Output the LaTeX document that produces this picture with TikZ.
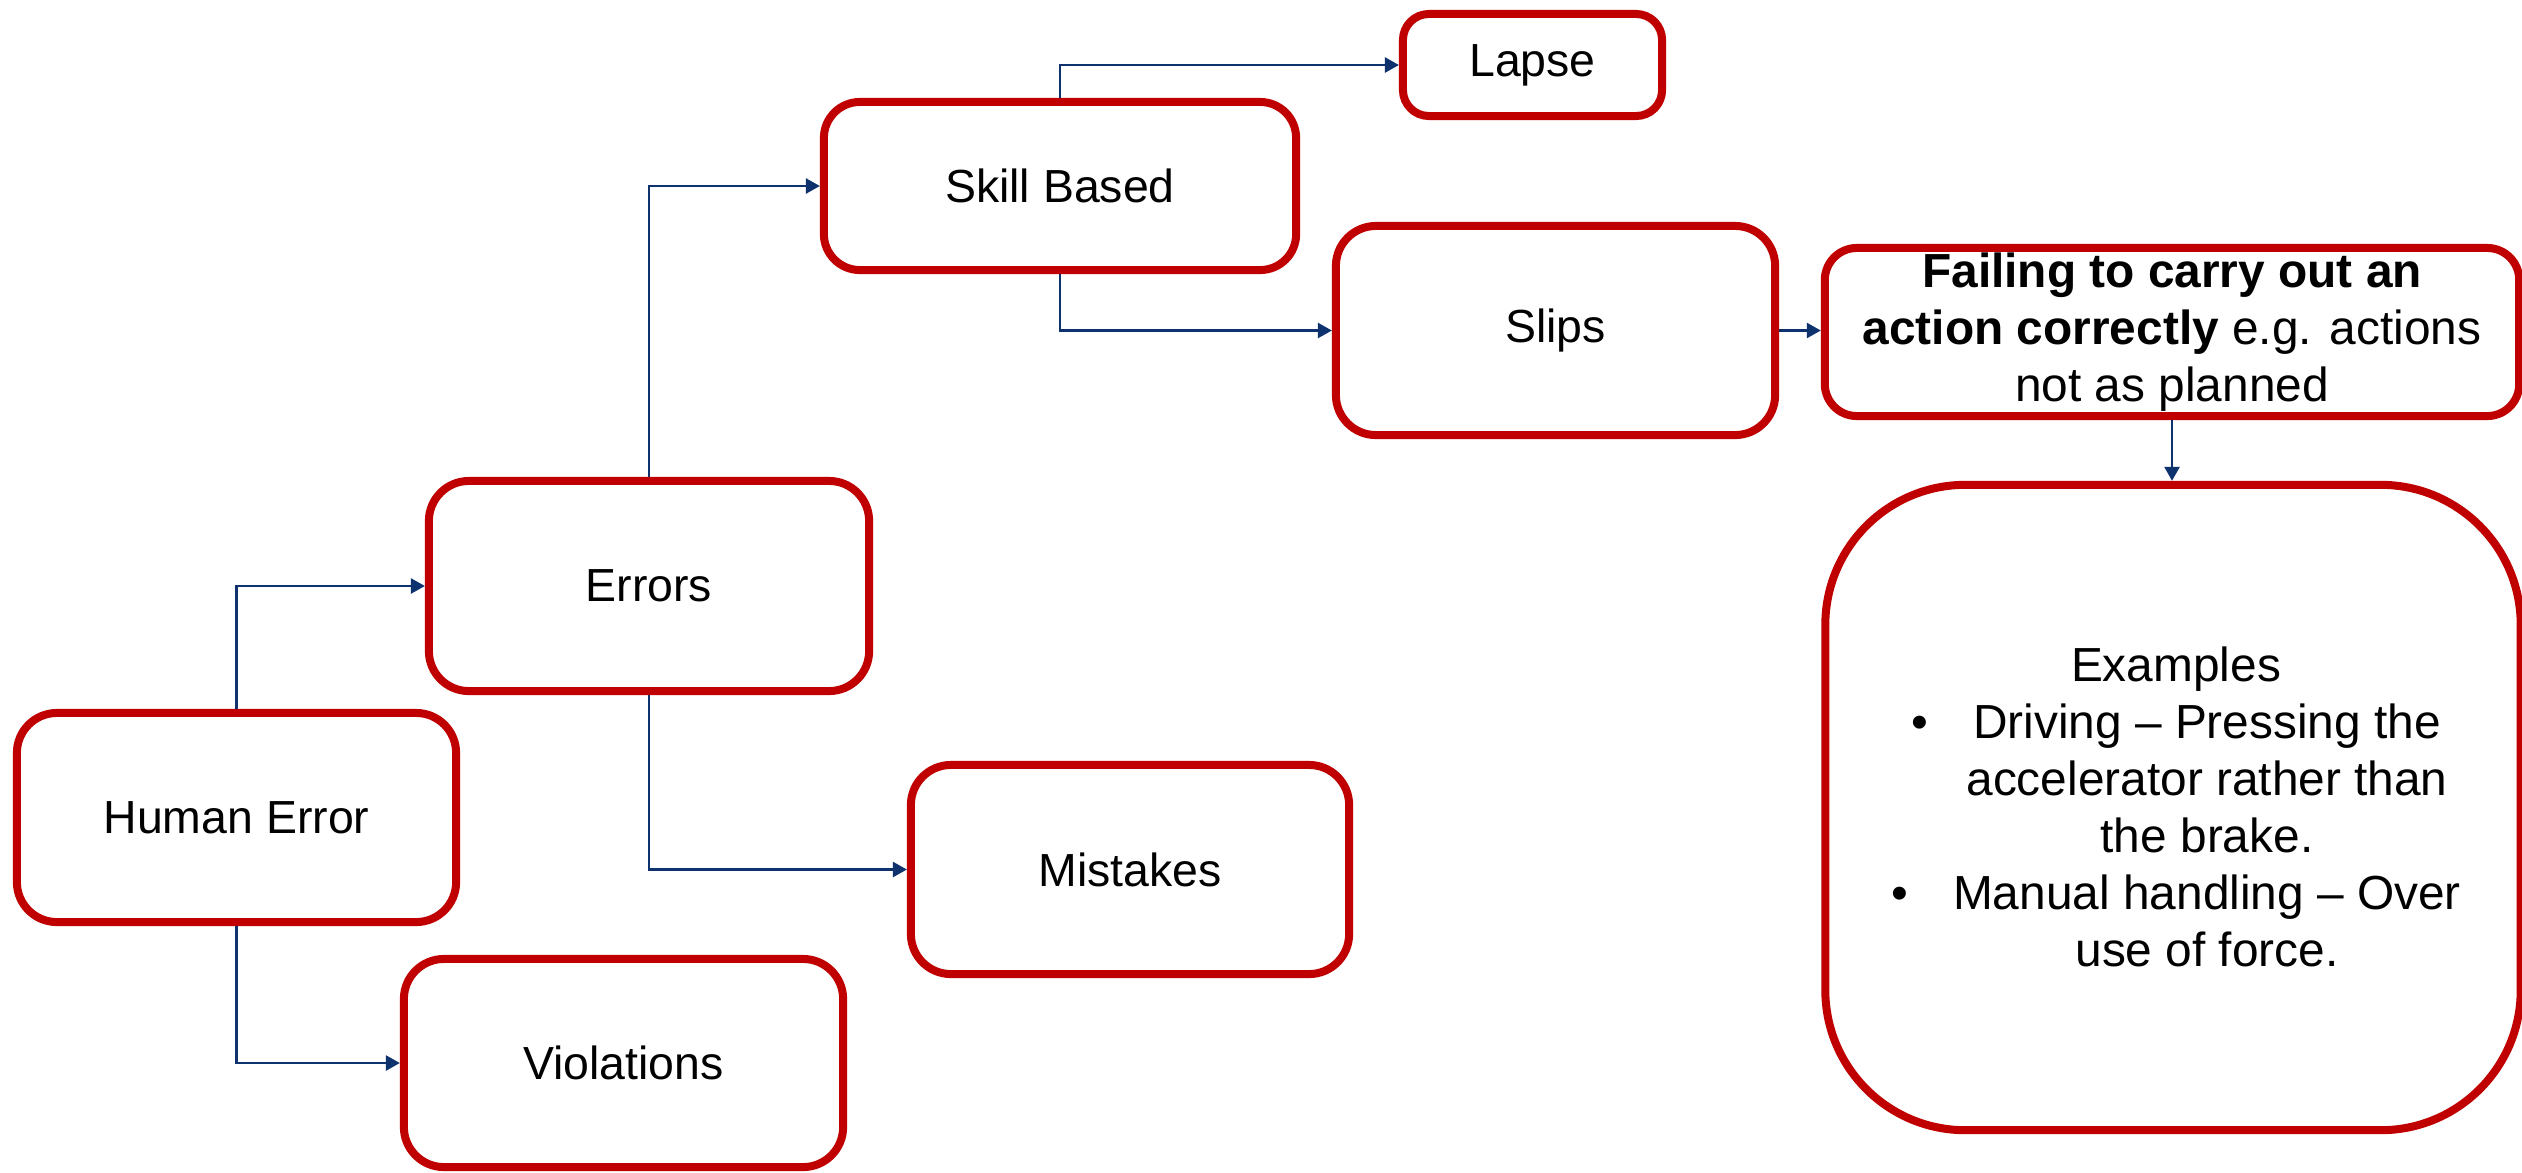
\documentclass[tikz,border=0pt]{standalone}
\usepackage{fontspec}
\setmainfont{Liberation Sans}
\usetikzlibrary{arrows.meta}
\definecolor{boxred}{RGB}{192,0,0}
\definecolor{linkblue}{RGB}{14,50,110}
\tikzset{
  box/.style={draw=boxred, line width=0.08cm, rounded corners=0.4cm, fill=white,
    inner sep=0pt, align=center, font=\fontsize{13.2}{16.2}\selectfont},
  bodytext/.style={inner sep=0pt, align=center, font=\fontsize{13.6}{16.2}\selectfont},
  link/.style={draw=linkblue, line width=0.025cm,
    -{Triangle[length=0.14cm,width=0.15cm]}},
}
\begin{document}
\begin{tikzpicture}[x=0.01cm,y=-0.01cm]
\fill[white] (0,0) rectangle (2522,1172);
\clip (0,0) rectangle (2522,1172);

% classification boxes
\node[box, minimum width=4.39cm, minimum height=2.09cm] (human) at (236.5,817.5) {Human Error};
\node[box, minimum width=4.40cm, minimum height=2.10cm] (errors) at (649,586) {Errors};
\node[box, minimum width=4.39cm, minimum height=2.08cm] (violations) at (623.5,1063) {Violations};
\node[box, minimum width=4.38cm, minimum height=2.09cm] (mistakes) at (1130,869.5) {Mistakes};
\node[box, minimum width=4.72cm, minimum height=1.68cm, rounded corners=0.36cm] (skill) at (1060,186) {Skill Based};
\node[box, minimum width=2.59cm, minimum height=1.02cm, rounded corners=0.26cm] (lapse) at (1532.5,65) {Lapse};
\node[box, minimum width=4.39cm, minimum height=2.09cm] (slips) at (1555.5,330.5) {Slips};

% description and examples
\node[box, minimum width=6.94cm, minimum height=1.68cm, rounded corners=0.32cm,
  font=\fontsize{13.6}{16.2}\selectfont] (failing) at (2172,332)
  {\textbf{Failing to carry out an}\\
   \textbf{action correctly} e.g. actions\\
   not as planned};
\node[box, minimum width=6.95cm, minimum height=6.45cm, rounded corners=1.4cm] (examples) at (2173,807.5) {};
\node[bodytext] (examplestext) at (2207,807)
  {Examples\hspace*{0.62cm}\\
   \llap{•\hspace{0.45cm}}Driving – Pressing the\\
   accelerator rather than\\
   the brake.\\
   \llap{•\hspace{0.45cm}}Manual handling – Over\\
   use of force.};

% connectors
\draw[link] (human.north) |- (errors.west);
\draw[link] (human.south) |- (violations.west);
\draw[link] (errors.north) |- (skill.west);
\draw[link] (errors.south) |- (mistakes.west);
\draw[link] (skill.north) |- (lapse.west);
\draw[link] (skill.south) |- (slips.west);
\draw[link] (slips.east) -- (slips.east -| failing.west);
\draw[link] (failing.south) -- (failing.south |- examples.north);
\end{tikzpicture}
\end{document}
